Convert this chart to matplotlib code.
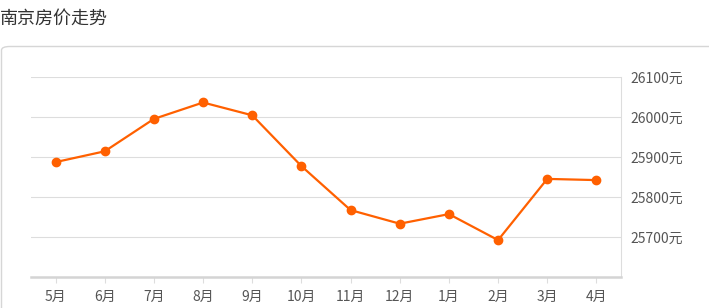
import matplotlib.pyplot as plt
from matplotlib.patches import FancyBboxPatch

plt.rcParams['font.family'] = ['Noto Sans CJK SC', 'DejaVu Sans']

months = ['5月', '6月', '7月', '8月', '9月', '10月', '11月', '12月', '1月', '2月', '3月', '4月']
prices = [25888, 25915, 25996, 26037, 26005, 25878, 25768, 25734, 25758, 25693, 25846, 25843]
y_ticks = [25700, 25800, 25900, 26000, 26100]
y_min, y_max = 25600, 26100

LINE_COLOR = '#ff6000'
GRID_COLOR = '#dddddd'
TEXT_COLOR = '#555555'

fig = plt.figure(figsize=(7.09, 3.08), dpi=100)
fig.patch.set_facecolor('white')

# title and panel box
fig.text(0.0, 0.94, '南京房价走势', fontsize=13, color='#333333', va='center', ha='left')
panel = FancyBboxPatch((1.5 / 709, -0.2), 1.2, 1.0 - 46.5 / 308 + 0.2,
                       boxstyle='round,pad=0,rounding_size=0.012',
                       transform=fig.transFigure, facecolor='none',
                       edgecolor='#d6d6d6', linewidth=1.0)
fig.patches.append(panel)

ax = fig.add_axes([31 / 709, 30.7 / 308, 590 / 709, 200 / 308])
x = list(range(len(months)))
ax.plot(x, prices, color=LINE_COLOR, linewidth=1.6, marker='o', markersize=6,
        zorder=3, clip_on=False)

ax.set_xlim(-0.5, len(months) - 0.5)
ax.set_ylim(y_min, y_max)
ax.set_xticks(x)
ax.set_xticklabels(months)
ax.set_yticks(y_ticks)
ax.set_yticklabels([f'{v}元' for v in y_ticks])

ax.yaxis.tick_right()
ax.grid(axis='y', color=GRID_COLOR, linewidth=0.8)
ax.set_axisbelow(True)

for side in ['top', 'left']:
    ax.spines[side].set_visible(False)
ax.spines['right'].set_color(GRID_COLOR)
ax.spines['right'].set_linewidth(0.8)
ax.spines['bottom'].set_color('#d4d4d4')
ax.spines['bottom'].set_linewidth(1.8)

ax.tick_params(axis='x', colors=GRID_COLOR, length=4, width=0.8, pad=5,
               labelcolor=TEXT_COLOR, labelsize=10)
ax.tick_params(axis='y', length=0, pad=7, labelcolor=TEXT_COLOR, labelsize=10)

fig.savefig('out.png', dpi=100)
